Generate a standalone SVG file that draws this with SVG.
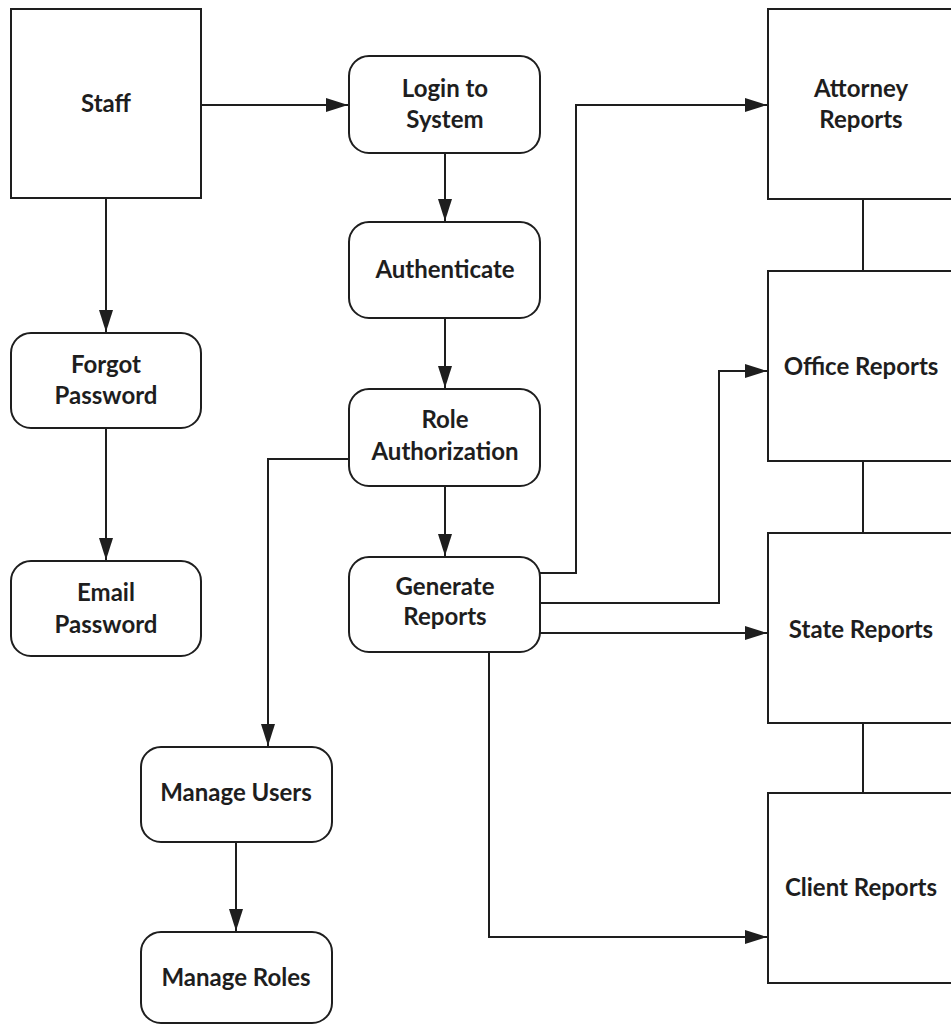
<svg xmlns="http://www.w3.org/2000/svg" width="951" height="1026" viewBox="0 0 951 1026">
  <style>
    .box { fill: #ffffff; stroke: #1e1e1e; stroke-width: 2; }
    .lbl { font-family: Lato, "Liberation Sans", sans-serif; font-weight: 700; font-size: 24px; fill: #1e1e1e; text-anchor: middle; }
    .wire { fill: none; stroke: #1e1e1e; stroke-width: 2; }
    .arrow { fill: none; stroke: #1e1e1e; stroke-width: 2; marker-end: url(#head); }
  </style>
  <defs>
    <marker id="head" markerUnits="userSpaceOnUse" markerWidth="22" markerHeight="14" refX="22" refY="7" orient="auto">
      <path d="M0,0 L22,7 L0,14 z" fill="#1e1e1e"/>
    </marker>
  </defs>
  <rect width="951" height="1026" fill="#ffffff"/>

  <g id="connectors">
    <path class="arrow" d="M201,105 H348"/>
    <path class="arrow" d="M106,198 V332"/>
    <path class="arrow" d="M106,428 V560"/>
    <path class="arrow" d="M445,153 V221"/>
    <path class="arrow" d="M445,318 V388"/>
    <path class="arrow" d="M445,486 V556"/>
    <path class="arrow" d="M349,459 H268 V746"/>
    <path class="arrow" d="M236,842 V931"/>
    <path class="arrow" d="M540,573 H576 V105 H767"/>
    <path class="arrow" d="M540,603 H719 V371 H767"/>
    <path class="arrow" d="M540,633 H767"/>
    <path class="arrow" d="M489,652 V937 H767"/>
    <path class="wire" d="M863,199 V271"/>
    <path class="wire" d="M863,461 V533"/>
    <path class="wire" d="M863,723 V793"/>
  </g>

  <g id="staff">
    <rect class="box" x="11" y="9" width="190" height="189"/>
    <text class="lbl" x="106" y="112">Staff</text>
  </g>
  <g id="forgot-password">
    <rect class="box" x="11" y="333" width="190" height="95" rx="20"/>
    <text class="lbl" x="106" y="373">Forgot</text>
    <text class="lbl" x="106" y="404">Password</text>
  </g>
  <g id="email-password">
    <rect class="box" x="11" y="561" width="190" height="95" rx="20"/>
    <text class="lbl" x="106" y="601">Email</text>
    <text class="lbl" x="106" y="633">Password</text>
  </g>
  <g id="login">
    <rect class="box" x="349" y="56" width="191" height="97" rx="20"/>
    <text class="lbl" x="445" y="97">Login to</text>
    <text class="lbl" x="445" y="128">System</text>
  </g>
  <g id="authenticate">
    <rect class="box" x="349" y="222" width="191" height="96" rx="20"/>
    <text class="lbl" x="445" y="278">Authenticate</text>
  </g>
  <g id="role-authorization">
    <rect class="box" x="349" y="389" width="191" height="97" rx="20"/>
    <text class="lbl" x="445" y="428">Role</text>
    <text class="lbl" x="445" y="460">Authorization</text>
  </g>
  <g id="generate-reports">
    <rect class="box" x="349" y="557" width="191" height="95" rx="20"/>
    <text class="lbl" x="445" y="595">Generate</text>
    <text class="lbl" x="445" y="625">Reports</text>
  </g>
  <g id="manage-users">
    <rect class="box" x="141" y="747" width="191" height="95" rx="20"/>
    <text class="lbl" x="236" y="801">Manage Users</text>
  </g>
  <g id="manage-roles">
    <rect class="box" x="141" y="932" width="191" height="91" rx="20"/>
    <text class="lbl" x="236" y="986">Manage Roles</text>
  </g>
  <g id="attorney-reports">
    <rect class="box" x="768" y="9" width="190" height="190"/>
    <text class="lbl" x="861" y="97">Attorney</text>
    <text class="lbl" x="861" y="128">Reports</text>
  </g>
  <g id="office-reports">
    <rect class="box" x="768" y="271" width="190" height="190"/>
    <text class="lbl" x="861" y="375">Office Reports</text>
  </g>
  <g id="state-reports">
    <rect class="box" x="768" y="533" width="190" height="190"/>
    <text class="lbl" x="861" y="638">State Reports</text>
  </g>
  <g id="client-reports">
    <rect class="box" x="768" y="793" width="190" height="190"/>
    <text class="lbl" x="861" y="896">Client Reports</text>
  </g>
</svg>
